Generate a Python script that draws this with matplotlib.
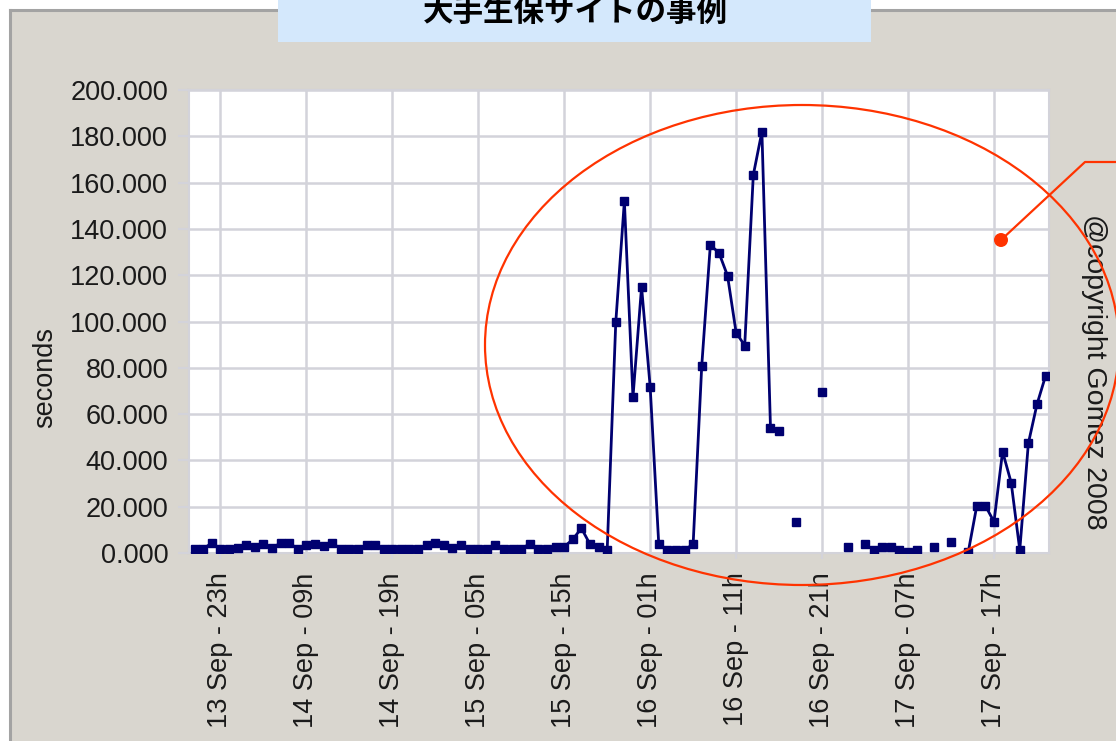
import numpy as np
import pandas as pd
import matplotlib
matplotlib.use("Agg")
import matplotlib.pyplot as plt
from matplotlib.patches import Rectangle, Ellipse
from matplotlib.lines import Line2D

# hourly response time (seconds), 13 Sep 20h .. 17 Sep 23h, None = no measurement
seconds = [
    1.8, 1.8, 4.3, 1.8, 1.8, 2.0, 3.6, 2.6, 3.8, 2.0,
    4.4, 4.4, 1.8, 3.6, 4.0, 3.0, 4.4, 1.8, 1.8, 1.8,
    3.6, 3.6, 1.8, 1.8, 1.8, 1.8, 1.8, 3.6, 4.4, 3.6,
    2.0, 3.6, 1.8, 1.8, 1.8, 3.6, 1.8, 1.8, 1.8, 4.0,
    1.8, 1.8, 2.7, 2.7, 5.9, 10.7, 3.8, 2.7, 1.3, 99.7,
    152.0, 67.3, 115.0, 71.8, 3.8, 1.3, 1.3, 1.3, 3.8, 80.8,
    133.0, 129.7, 119.8, 95.2, 89.6, 163.3, 182.0, 53.9, 52.8, None,
    13.5, None, None, 69.4, None, None, 2.4, None, 3.9, 1.3,
    2.4, 2.4, 1.3, 0.3, 1.3, None, 2.4, None, 4.9, None,
    0.3, 20.4, 20.4, 13.5, 43.8, 30.4, 1.3, 47.4, 64.2, 76.5,
]
times = pd.date_range("2008-09-13 20:00", periods=len(seconds), freq="h")
values = np.array([np.nan if v is None else v for v in seconds])

tick_times = pd.to_datetime([
    "2008-09-13 23:00", "2008-09-14 09:00", "2008-09-14 19:00", "2008-09-15 05:00",
    "2008-09-15 15:00", "2008-09-16 01:00", "2008-09-16 11:00", "2008-09-16 21:00",
    "2008-09-17 07:00", "2008-09-17 17:00",
])
tick_labels = [
    "13 Sep - 23h", "14 Sep - 09h", "14 Sep - 19h", "15 Sep - 05h", "15 Sep - 15h",
    "16 Sep - 01h", "16 Sep - 11h", "16 Sep - 21h", "17 Sep - 07h", "17 Sep - 17h",
]
y_ticks = [0, 20, 40, 60, 80, 100, 120, 140, 160, 180, 200]

W, H = 1116, 741
bg = "#d9d6cf"
grid_c = "#d3d3da"
navy = "#000070"
red = "#ff3300"

plt.rcParams['font.family'] = ['Liberation Sans', 'DejaVu Sans']

fig = plt.figure(figsize=(W / 100, H / 100), dpi=100, facecolor="white")

def fx(px):
    return px / W

def fy(py):
    return 1 - py / H

# grey panel with darker border on top/left
fig.add_artist(Rectangle((fx(9), 0), 1, fy(9), transform=fig.transFigure,
                         facecolor=bg, edgecolor="none", zorder=0))
fig.add_artist(Line2D([fx(10), fx(10)], [0, fy(10)], transform=fig.transFigure,
                      color="#a3a3a3", lw=2.2, zorder=1))
fig.add_artist(Line2D([fx(10), 1], [fy(10), fy(10)], transform=fig.transFigure,
                      color="#a3a3a3", lw=2.2, zorder=1))

# title box (cut at top, as in the source screenshot)
fig.add_artist(Rectangle((fx(278), fy(42)), fx(871 - 278), 42 / H, transform=fig.transFigure,
                         facecolor="#d4e8fc", edgecolor="none", zorder=2))
fig.text(fx(575), fy(12), "大手生保サイトの事例", ha="center", va="center",
         fontsize=22, fontweight="bold", family=["Noto Sans CJK JP", "DejaVu Sans"],
         color="black", zorder=3)

ax = fig.add_axes([fx(189), fy(553), fx(1049 - 189), (553 - 90) / H])
ax.set_facecolor("white")
ax.plot(times, values, color=navy, lw=2.0, marker="s", markersize=5.5,
        markerfacecolor=navy, markeredgecolor=navy, zorder=3)

ax.set_ylim(0, 200)
ax.set_xlim(times[0] - pd.Timedelta(minutes=39), times[-1] + pd.Timedelta(minutes=24))
ax.set_yticks(y_ticks)
ax.set_yticklabels([f"{v:.3f}" for v in y_ticks])
ax.set_xticks(tick_times)
ax.set_xticklabels(tick_labels, rotation=90, va="top", ha="center")
ax.grid(True, color=grid_c, lw=1.8)
ax.set_axisbelow(True)
for s in ax.spines.values():
    s.set_color(grid_c)
    s.set_linewidth(1.5)
ax.tick_params(axis="y", length=8, width=1.5, color=grid_c, pad=7, labelsize=19.5,
               labelcolor="#1a1a1a")
ax.tick_params(axis="x", length=4, width=1.5, color=grid_c, pad=10, labelsize=19.5,
               labelcolor="#1a1a1a")

fig.text(fx(45), fy(377), "seconds", rotation=90, ha="center", va="center",
         fontsize=19.5, color="#1a1a1a")
fig.text(fx(1094), fy(372), "@copyright Gomez 2008", rotation=-90, ha="center",
         va="center", fontsize=20.5, color="#1a1a1a")

# red highlight annotation
fig.add_artist(Ellipse((fx(802), fy(345)), fx(634), 480 / H, transform=fig.transFigure,
                       facecolor="none", edgecolor=red, lw=1.6, zorder=5))
fig.add_artist(Line2D([fx(1001), fx(1085), 1], [fy(240), fy(162), fy(162)],
                      transform=fig.transFigure, color=red, lw=1.6, zorder=5))
fig.add_artist(Ellipse((fx(1001), fy(240)), fx(14), 14 / H, transform=fig.transFigure,
                       facecolor=red, edgecolor="none", zorder=6))

fig.savefig("out.png", dpi=100, facecolor=fig.get_facecolor())
